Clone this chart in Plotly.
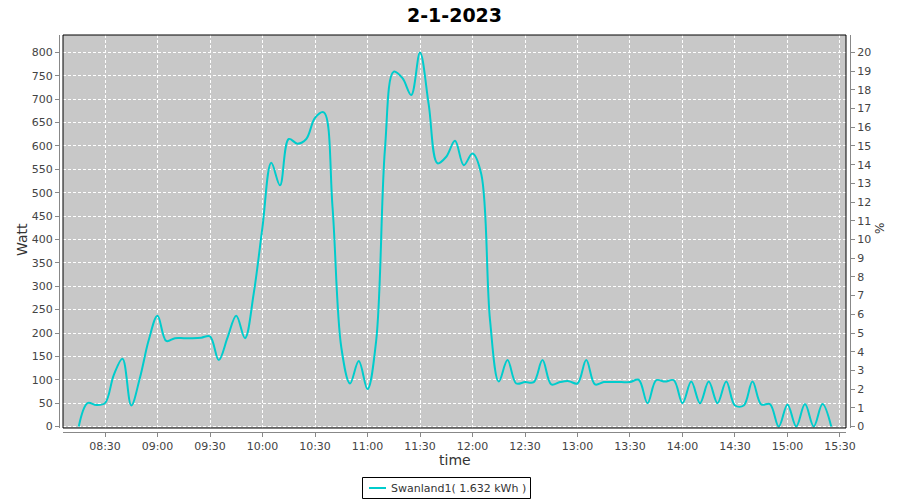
import plotly.graph_objects as go

day = "2023-01-02"
times = [
    "08:15", "08:20", "08:25", "08:30", "08:35", "08:40", "08:45", "08:50", "08:55",
    "09:00", "09:05", "09:10", "09:15", "09:20", "09:25", "09:30", "09:35", "09:40", "09:45", "09:50", "09:55",
    "10:00", "10:05", "10:10", "10:15", "10:20", "10:25", "10:30", "10:35", "10:40", "10:45", "10:50", "10:55",
    "11:00", "11:05", "11:10", "11:15", "11:20", "11:25", "11:30", "11:35", "11:40", "11:45", "11:50", "11:55",
    "12:00", "12:05", "12:10", "12:15", "12:20", "12:25", "12:30", "12:35", "12:40", "12:45", "12:50", "12:55",
    "13:00", "13:05", "13:10", "13:15", "13:20", "13:25", "13:30", "13:35", "13:40", "13:45", "13:50", "13:55",
    "14:00", "14:05", "14:10", "14:15", "14:20", "14:25", "14:30", "14:35", "14:40", "14:45", "14:50", "14:55",
    "15:00", "15:05", "15:10", "15:15", "15:20", "15:25",
]
watt = [
    0, 50, 46, 50, 110, 145, 45, 105, 185,
    237, 183, 189, 189, 189, 190, 193, 142, 190, 237, 189, 285,
    427, 564, 516, 615, 605, 615, 660, 672, 470, 170, 92, 140,
    80, 185, 595, 759, 745, 709, 800, 688, 563, 577, 611, 559,
    584, 540, 228, 96, 142, 92, 95, 95, 142, 90, 95, 97,
    92, 142, 90, 95, 95, 95, 95, 100, 50, 99, 96, 99,
    50, 96, 50, 96, 50, 96, 45, 45, 96, 47, 48, 0,
    47, 0, 48, 0, 48, 0,
]
series_name = "Swanland1( 1.632 kWh )"
title_text = "2-1-2023"
x_title = "time"
y_title = "Watt"
y2_title = "%"

x = [f"{day} {t}:00" for t in times]

FONT = "DejaVu Sans"
LINE_COLOR = "rgb(0,204,204)"
fig = go.Figure()
fig.add_trace(go.Scatter(
    x=x, y=watt, mode="lines", name=series_name,
    line=dict(color=LINE_COLOR, width=2, shape="spline", smoothing=1.0),
    showlegend=False,
))
# invisible trace on the right axis to activate it
fig.add_trace(go.Scatter(x=[x[0]], y=[0], yaxis="y2", mode="markers",
                         marker=dict(opacity=0), showlegend=False, hoverinfo="skip"))

W_L, W_R = 59, 50
T, B = 35, 68
plot_w = 900 - W_L - W_R
plot_h = 500 - T - B


def px(xp):
    return (xp - W_L) / plot_w


def py(yp):
    return (T + plot_h - yp) / plot_h


fig.update_layout(
    width=900, height=500,
    margin=dict(l=W_L, r=W_R, t=T, b=B, autoexpand=False),
    paper_bgcolor="white", plot_bgcolor="#c8c8c8",
    font=dict(family=FONT, size=11, color="#444444"),
    title=dict(text=f"<b>{title_text}</b>", x=0.5, xanchor="center", xref="paper",
               yref="container", y=1 - 15 / 500, yanchor="middle",
               font=dict(family=FONT, size=19, color="black")),
    xaxis=dict(
        type="date", automargin=False,
        domain=[4 / plot_w, (plot_w - 4) / plot_w],
        range=[f"{day} 08:06:00", f"{day} 15:33:26"],
        tickformat="%H:%M", dtick=30 * 60 * 1000, tick0=f"{day} 08:00:00",
        showgrid=True, gridcolor="white", griddash="3px,2px", gridwidth=1,
        showline=True, linecolor="#888888", linewidth=1,
        ticks="outside", ticklen=4, tickcolor="#888888",
        anchor="free", position=0,
        zeroline=False,
    ),
    yaxis=dict(
        automargin=False,
        domain=[4 / plot_h, 1],
        range=[-3.2, 837.4], dtick=50, tick0=0,
        showgrid=True, gridcolor="white", griddash="3px,2px", gridwidth=1,
        showline=True, linecolor="#888888", linewidth=1,
        ticks="outside", ticklen=4, tickcolor="#888888",
        anchor="free", position=0,
        zeroline=False,
    ),
    yaxis2=dict(
        automargin=False,
        overlaying="y", side="right", anchor="free", position=1,
        range=[-3.2 / 40, 837.4 / 40], dtick=1, tick0=0,
        showgrid=False,
        showline=True, linecolor="#888888", linewidth=1,
        ticks="outside", ticklen=4, tickcolor="#888888",
        zeroline=False,
    ),
    showlegend=False,
)
fig.add_annotation(text=y_title, x=px(22), y=py(240), xref="paper", yref="paper",
                   textangle=-90, showarrow=False, xanchor="center", yanchor="middle",
                   font=dict(family=FONT, size=14, color="#333333"))
fig.add_annotation(text=x_title, x=px(455), y=py(460), xref="paper", yref="paper",
                   showarrow=False, xanchor="center", yanchor="middle",
                   font=dict(family=FONT, size=14, color="#333333"))
fig.add_annotation(text=y2_title, x=px(880), y=py(229), xref="paper", yref="paper",
                   textangle=-90, showarrow=False, xanchor="center", yanchor="middle",
                   font=dict(family=FONT, size=12, color="#333333"))
fig.add_shape(type="rect", xref="x domain", yref="y domain", x0=0, x1=1, y0=0, y1=1,
              line=dict(color="black", width=1), fillcolor="rgba(0,0,0,0)", layer="above")

# legend box (drawn)
fig.add_shape(type="rect", xref="paper", yref="paper", x0=px(362.5), x1=px(530.5),
              y0=py(477.5), y1=py(498.5), line=dict(color="black", width=1), fillcolor="white")
fig.add_shape(type="line", xref="paper", yref="paper", x0=px(369), x1=px(386),
              y0=py(488), y1=py(488), line=dict(color=LINE_COLOR, width=2))
fig.add_annotation(text=series_name, x=px(389), y=py(488), xref="paper", yref="paper",
                   showarrow=False, xanchor="left", yanchor="middle",
                   font=dict(family=FONT, size=11, color="#333333"))

fig.write_html("out.html", config={"displayModeBar": False},
               post_script="document.body.style.margin='0px';")
